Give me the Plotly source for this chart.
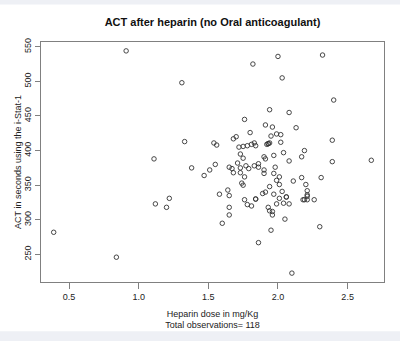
import plotly.graph_objects as go

# Heparin dose (mg/Kg) and ACT (seconds, i-Stat-1) per observation
heparin_dose = [
    0.91, 1.31, 2.00, 2.32, 1.82, 2.03, 2.40, 1.94, 2.08, 1.76,
    1.91, 1.96, 2.13, 1.80, 1.99, 2.02, 1.95, 1.68, 1.70, 1.33,
    1.54, 1.56, 2.39, 2.02, 1.72, 1.75, 1.78, 1.81, 1.83, 1.84,
    1.92, 1.93, 1.94, 2.19, 2.04, 1.73, 1.75, 1.90, 1.91, 1.97,
    2.17, 2.08, 2.39, 2.67, 1.11, 1.38, 1.55, 1.65, 1.67, 1.71,
    1.73, 1.77, 1.79, 1.83, 1.86, 1.86, 1.98, 1.47, 1.51, 1.68,
    1.73, 1.76, 1.74, 1.75, 1.90, 1.90, 1.97, 2.01, 1.99, 2.01,
    2.11, 2.17, 2.31, 2.20, 2.21, 1.94, 1.64, 1.58, 1.65, 1.89,
    1.91, 1.97, 2.03, 2.06, 2.06, 2.01, 1.76, 1.84, 1.84, 1.78,
    1.81, 1.99, 2.04, 2.08, 2.18, 2.19, 2.21, 2.21, 2.21, 2.26,
    1.65, 1.65, 1.60, 1.93, 1.94, 1.96, 1.96, 2.05, 2.30, 1.95,
    1.86, 2.10, 1.22, 1.12, 1.20, 0.39, 0.84, 1.93,
]
act_seconds = [
    544, 498, 536, 538, 525, 505, 473, 459, 455, 445,
    437, 434, 433, 426, 424, 423, 421, 417, 420, 413,
    411, 408, 415, 412, 405, 406, 407, 409, 411, 407,
    409, 410, 411, 400, 397, 395, 389, 391, 388, 393,
    391, 385, 384, 386, 388, 375, 380, 376, 374, 382,
    375, 378, 374, 378, 381, 376, 376, 364, 372, 368,
    368, 362, 353, 350, 372, 367, 367, 362, 357, 351,
    356, 361, 361, 351, 342, 348, 343, 337, 335, 338,
    340, 337, 341, 333, 333, 331, 329, 330, 330, 322,
    320, 323, 324, 323, 329, 329, 329, 334, 336, 329,
    318, 307, 295, 318, 313, 312, 307, 301, 290, 285,
    267, 223, 331, 323, 318, 282, 246, 410,
]

x_ticks = [0.5, 1.0, 1.5, 2.0, 2.5]
x_tick_labels = ["0.5", "1.0", "1.5", "2.0", "2.5"]
y_ticks = [250, 300, 350, 400, 450, 500, 550]
y_tick_labels = ["250", "300", "350", "400", "450", "500", "550"]


def padded_range(values, frac=0.04):
    lo, hi = min(values), max(values)
    pad = (hi - lo) * frac
    return [lo - pad, hi + pad]


FONT = "Liberation Sans, Arial, sans-serif"
W, H = 400, 341
ML, MR, MT, MB = 41, 16, 42, 55
plot_h = H - MT - MB

fig = go.Figure(
    go.Scatter(
        x=heparin_dose,
        y=act_seconds,
        mode="markers",
        marker=dict(
            symbol="circle-open",
            size=4.5,
            color="#333333",
            line=dict(width=0.9, color="#333333"),
        ),
        hoverinfo="x+y",
    )
)

axis_common = dict(
    showgrid=False,
    zeroline=False,
    showline=True,
    mirror=True,
    linecolor="#808080",
    linewidth=1,
    ticks="outside",
    tickwidth=1,
    tickcolor="#808080",
    tickfont=dict(family=FONT, size=9, color="#222222"),
)

fig.update_xaxes(
    range=padded_range(heparin_dose),
    tickvals=x_ticks,
    ticktext=x_tick_labels,
    ticklen=6,
    title=dict(
        text="Heparin dose in mg/Kg<br>Total observations= 118",
        font=dict(family=FONT, size=9, color="#222222"),
        standoff=9,
    ),
    **axis_common,
)
fig.update_yaxes(
    range=padded_range(act_seconds),
    tickvals=y_ticks,
    ticktext=y_tick_labels,
    tickangle=-90,
    ticklen=5,
    title=dict(
        text="ACT in seconds using the i-Stat-1",
        font=dict(family=FONT, size=9, color="#222222"),
        standoff=0,
    ),
    **axis_common,
)

# light frame bands along the top and bottom edges of the page
band = "#eef0f5"
fig.add_shape(type="rect", xref="paper", yref="paper", x0=-1, x1=2,
              y0=(plot_h + MT - 4) / plot_h, y1=3,
              fillcolor=band, line_width=0, layer="below")
fig.add_shape(type="rect", xref="paper", yref="paper", x0=-1, x1=2,
              y0=-3, y1=-(336 - (H - MB)) / plot_h,
              fillcolor=band, line_width=0, layer="below")

fig.update_layout(
    width=W,
    height=H,
    margin=dict(l=ML, r=MR, t=MT, b=MB),
    paper_bgcolor="white",
    plot_bgcolor="white",
    showlegend=False,
    title=dict(
        text="ACT after heparin (no Oral anticoagulant)",
        x=(ML + (W - ML - MR) / 2) / W,
        xanchor="center",
        y=1 - 22 / H,
        yanchor="middle",
        font=dict(family=FONT, size=11, color="#111111", weight="bold"),
    ),
)

fig.write_html("out.html")
